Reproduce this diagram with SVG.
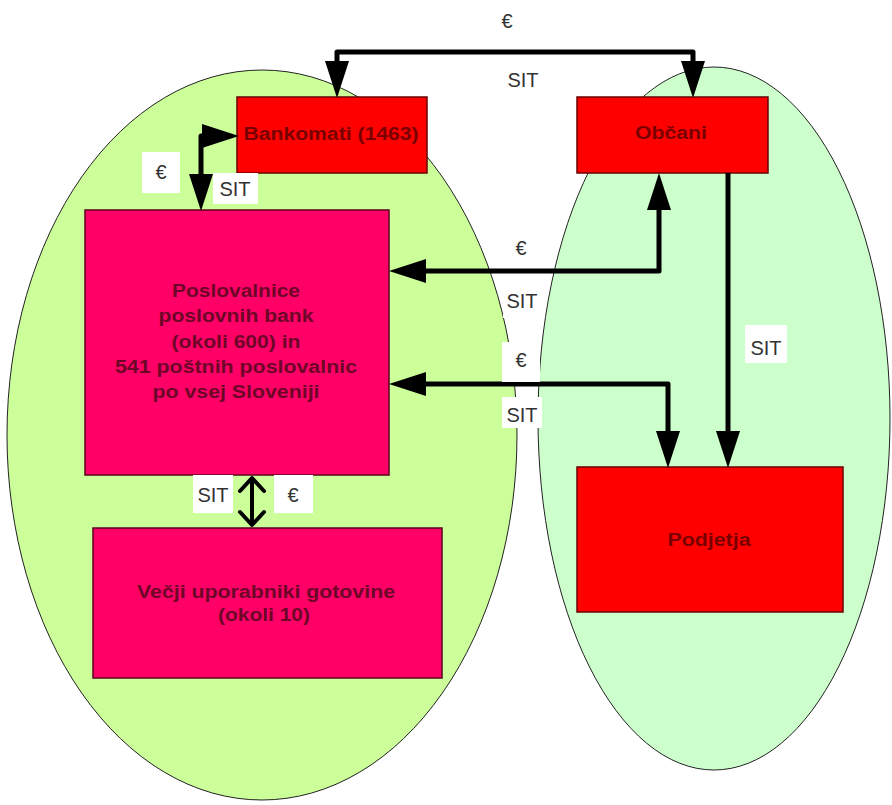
<svg xmlns="http://www.w3.org/2000/svg" width="892" height="805" viewBox="0 0 892 805">
<defs>
<style>
.ell{stroke:#222;stroke-width:1}
.red{fill:#ff0000;stroke:#6a0000;stroke-width:1.5}
.pink{fill:#ff0066;stroke:#5a0020;stroke-width:1.5}
.bt{font-family:"Liberation Sans",Arial,sans-serif;font-weight:bold;font-size:18px;text-anchor:middle}
.rt{fill:#7a0000}
.pt{fill:#6e0628}
.lbl{fill:#ffffff}
.lt{font-family:"Liberation Sans",Arial,sans-serif;font-size:20px;fill:#333;text-anchor:middle}
.con{fill:none;stroke:#000;stroke-width:5;stroke-linejoin:round}
</style>
<marker id="ah" markerUnits="userSpaceOnUse" markerWidth="37" markerHeight="24" viewBox="0 0 37 24" refX="0" refY="12" orient="auto-start-reverse">
<path d="M0,0 L37,12 L0,24 z" fill="#000"/>
</marker>
<marker id="chev" markerUnits="userSpaceOnUse" markerWidth="20" markerHeight="32" viewBox="-16 -16 20 32" refX="0" refY="0" orient="auto-start-reverse">
<path d="M-13,-12 L0,0 L-13,12" fill="none" stroke="#000" stroke-width="4" stroke-linejoin="round" stroke-linecap="round"/>
</marker>
</defs>
<rect width="892" height="805" fill="#ffffff"/>
<g id="ellipse-left"><ellipse class="ell" cx="262" cy="435" rx="255" ry="365" fill="#ccff99"/></g>
<g id="ellipse-right"><ellipse class="ell" cx="714" cy="418.5" rx="176" ry="351.5" fill="#ccffcc"/></g>

<g id="bankomati">
<rect class="red" x="237" y="97" width="190" height="76"/>
<text class="bt rt" x="331" y="140" textLength="175" lengthAdjust="spacingAndGlyphs">Bankomati (1463)</text>
</g>
<g id="obcani">
<rect class="red" x="577" y="97" width="191" height="76"/>
<text class="bt rt" x="671" y="139" textLength="72" lengthAdjust="spacingAndGlyphs">Občani</text>
</g>
<g id="poslovalnice">
<rect class="pink" x="85" y="210" width="304" height="265"/>
<text class="bt pt" x="236" y="297" textLength="128" lengthAdjust="spacingAndGlyphs">Poslovalnice</text>
<text class="bt pt" x="236" y="322" textLength="155" lengthAdjust="spacingAndGlyphs">poslovnih bank</text>
<text class="bt pt" x="236" y="348" textLength="129" lengthAdjust="spacingAndGlyphs">(okoli 600) in</text>
<text class="bt pt" x="236" y="373" textLength="242" lengthAdjust="spacingAndGlyphs">541 poštnih poslovalnic</text>
<text class="bt pt" x="236" y="398" textLength="167" lengthAdjust="spacingAndGlyphs">po vsej Sloveniji</text>
</g>
<g id="vecji">
<rect class="pink" x="93" y="528" width="349" height="150"/>
<text class="bt pt" x="266" y="598" textLength="258" lengthAdjust="spacingAndGlyphs">Večji uporabniki gotovine</text>
<text class="bt pt" x="264" y="621" textLength="92" lengthAdjust="spacingAndGlyphs">(okoli 10)</text>
</g>
<g id="podjetja">
<rect class="red" x="577" y="467" width="266" height="145"/>
<text class="bt rt" x="709" y="546" textLength="83" lengthAdjust="spacingAndGlyphs">Podjetja</text>
</g>

<g id="connectors">
<path class="con" d="M337,61 V52 H693 V61" marker-start="url(#ah)" marker-end="url(#ah)"/>
<path class="con" d="M201,174 V136 H202" marker-start="url(#ah)" marker-end="url(#ah)"/>
<path class="con" d="M659,210 V271 H426" marker-start="url(#ah)" marker-end="url(#ah)"/>
<path class="con" d="M426,384 H668 V431" marker-start="url(#ah)" marker-end="url(#ah)"/>
<path class="con" d="M728,173 V431" marker-end="url(#ah)"/>
<path d="M252,478 V525" fill="none" stroke="#000" stroke-width="4" marker-start="url(#chev)" marker-end="url(#chev)"/>
</g>

<g id="labels">
<text class="lt" x="507" y="28">€</text>
<text class="lt" x="523" y="87">SIT</text>
<rect class="lbl" x="142" y="152" width="38" height="41"/>
<text class="lt" x="161" y="179">€</text>
<rect class="lbl" x="213" y="173" width="45" height="31"/>
<text class="lt" x="235" y="196">SIT</text>
<rect class="lbl" x="503" y="229" width="38" height="39"/>
<text class="lt" x="521" y="255">€</text>
<rect class="lbl" x="503" y="283" width="38" height="35"/>
<text class="lt" x="522" y="308">SIT</text>
<rect class="lbl" x="502" y="342" width="38" height="40"/>
<text class="lt" x="521" y="367">€</text>
<rect class="lbl" x="502" y="397" width="40" height="31"/>
<text class="lt" x="522" y="422">SIT</text>
<rect class="lbl" x="745" y="325" width="42" height="38"/>
<text class="lt" x="766" y="355">SIT</text>
<rect class="lbl" x="193" y="475" width="40" height="38"/>
<text class="lt" x="213" y="502">SIT</text>
<rect class="lbl" x="274" y="475" width="39" height="38"/>
<text class="lt" x="293" y="502">€</text>
</g>
</svg>
